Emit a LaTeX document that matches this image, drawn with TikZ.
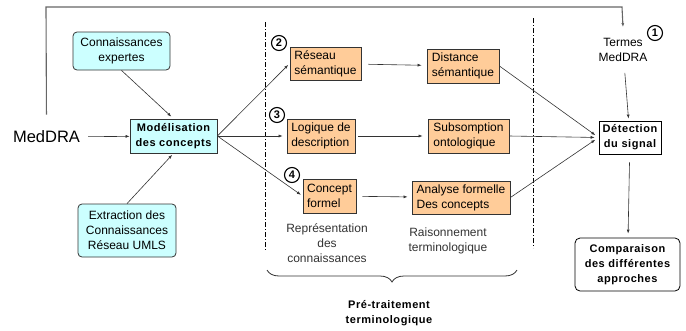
\documentclass[tikz,border=0pt]{standalone}
\usepackage{fontspec}
\setmainfont{Liberation Sans}
\newfontfamily\spacedfont[LetterSpace=5]{Liberation Sans}
\usetikzlibrary{arrows.meta,decorations.pathreplacing}
\definecolor{cyanbox}{HTML}{CCFFFF}
\definecolor{orangebox}{HTML}{FFCC99}
\definecolor{linegray}{HTML}{333333}
\tikzset{
	txt/.style={font=\fontsize{12}{15}\selectfont, align=center, text=black},
	knowbox/.style={txt, draw=linegray, fill=cyanbox, rounded corners=4pt, line width=0.8pt, inner sep=2pt},
	mainbox/.style={draw=linegray, fill=cyanbox, line width=0.8pt, inner sep=2pt, align=center, font=\spacedfont\bfseries\fontsize{11}{15}\selectfont},
	termbox/.style={txt, align=left, draw=linegray, fill=orangebox, line width=0.8pt, inner sep=2pt},
	outbox/.style={mainbox, fill=white, draw=black},
	numcirc/.style={circle, draw=black, line width=1.1pt, inner sep=0pt, minimum size=15pt, font=\bfseries\fontsize{11}{11}\selectfont},
	arr/.style={-{Latex[length=4pt,width=3pt]}, draw=linegray, line width=0.6pt},
	dashdot/.style={draw=black, line width=1pt, dash pattern=on 5pt off 2pt on 1pt off 2pt}
}

\begin{document}
\begin{tikzpicture}[x=1pt, y=-1pt]
		%%%%% START %%%%%
		\useasboundingbox (0,0) rectangle (686,330);
		
		% left part
		\node[txt, font=\fontsize{16.5}{18}\selectfont, inner sep=8pt] (meddra) at (46.5,137) {MedDRA};
		\node[knowbox, minimum width=97pt, minimum height=38pt] (expert) at (121.5,51) {Connaissances\\expertes};
		\node[mainbox, minimum width=87pt, minimum height=34pt] (model) at (173.5,136) {Modélisation\\des concepts};
		\node[knowbox, minimum width=98pt, minimum height=53pt] (extract) at (127,230.5) {Extraction des\\Connaissances\\Réseau UMLS};
		
		% separators
		\draw[dashdot] (265,22) -- (265,250);
		\draw[dashdot] (533,18) -- (533,248);
		
		% knowledge representation
		\node[termbox, minimum width=71pt, minimum height=33pt] (reseau) at (325.5,63.5) {Réseau\\sémantique};
		\node[termbox, minimum width=68pt, minimum height=34pt] (logique) at (321,136) {Logique de\\description};
		\node[termbox, minimum width=53pt, minimum height=34pt] (concept) at (329.5,196) {Concept\\formel};
		\node[numcirc] (n2) at (279,43) {2};
		\node[numcirc] (n3) at (277,115) {3};
		\node[numcirc] (n4) at (292,175) {4};
		
		% terminological reasoning
		\node[termbox, minimum width=72pt, minimum height=34pt] (distance) at (463,66) {Distance\\sémantique};
		\node[termbox, minimum width=81pt, minimum height=34pt] (subsomp) at (468.5,136) {Subsomption\\ontologique};
		\node[termbox, minimum width=98pt, minimum height=33pt] (analyse) at (461,197.5) {Analyse formelle\\Des concepts};
		
		\node[txt, text=linegray] (repr) at (327,243) {Représentation\\des\\connaissances};
		\node[txt, text=linegray] (raison) at (448,241) {Raisonnement\\terminologique};
		
		% right part
		\node[txt, inner sep=11pt] (termes) at (623,50) {Termes\\MedDRA};
		\node[numcirc] (n1) at (655,33) {1};
		\node[outbox, minimum width=62pt, minimum height=33pt] (detect) at (630,137.5) {Détection\\du signal};
		\node[outbox, rounded corners=5pt, minimum width=105pt, minimum height=53pt] (compar) at (627.5,264.5) {Comparaison\\des différentes\\approches};
		
		% brace
		\draw[linegray, line width=0.8pt, decorate, decoration={brace, mirror, amplitude=12pt}] (267,270) -- (517,270);
		\node[font=\spacedfont\bfseries\fontsize{11}{15}\selectfont, align=center] (pretrait) at (389,313) {Pré-traitement\\terminologique};
		
		% connectors
		\coordinate (topleft) at (46,7);
		\coordinate (topright) at (622,7);
		\draw[arr, draw=gray!80!black, line width=1.1pt, shorten <=8pt] (meddra.north) -- (topleft) -- (topright) -- (termes.north);
		\draw[arr] (meddra) -- (model);
		\draw[arr, shorten >=3pt] (expert.south) -- (model.north);
		\draw[arr, shorten >=2pt] (extract.north) -- (model.south);
		\draw[arr, shorten >=2pt] (model.east) -- (reseau.west);
		\draw[arr, shorten >=4pt] (model.east) -- (logique.west);
		\draw[arr, shorten >=2pt] (model.east) -- (concept.west);
		\draw[arr, shorten <=7pt, shorten >=5pt] (reseau) -- (distance);
		\draw[arr, shorten <=3pt, shorten >=5pt] (logique) -- (subsomp);
		\draw[arr, shorten <=6pt, shorten >=4pt] (concept) -- (analyse);
		\draw[arr, shorten >=4pt] (distance.east) -- (detect.west);
		\draw[arr, shorten >=4pt] (subsomp.east) -- (detect.west);
		\draw[arr, shorten >=4pt] (analyse.east) -- (detect.west);
		\draw[arr, shorten >=2pt] (termes) -- (detect);
		\draw[arr, shorten <=8pt, shorten >=4pt] (detect) -- (compar);
		%%%%% END %%%%%
\end{tikzpicture}
\end{document}
